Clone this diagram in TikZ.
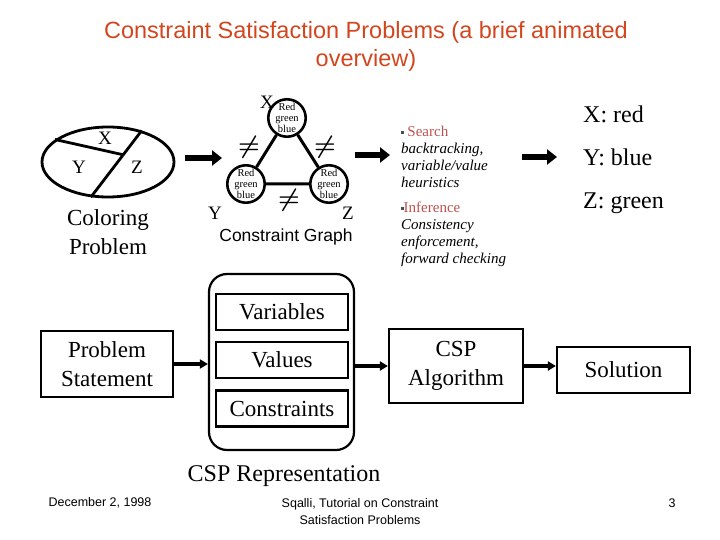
\documentclass[tikz,border=0pt]{standalone}
\usepackage{amsmath}
\usepackage{fontspec}
\setmainfont{Liberation Serif}
\newfontfamily\arialfont{Liberation Sans}
\usetikzlibrary{positioning,arrows.meta,shapes.geometric,calc}
\definecolor{titlered}{HTML}{D2461E}
\definecolor{bulletred}{HTML}{C0504D}

\begin{document}
\begin{tikzpicture}[x=1pt,y=-1pt,every node/.style={font=\fontsize{23}{29}\selectfont}]
    \tikzstyle{box}=[draw,line width=2.2pt,align=center,inner sep=0pt];
    \tikzstyle{var}=[circle,draw,line width=2.6pt,fill=white,minimum size=35pt,inner sep=0pt,
                     align=center,font=\fontsize{10.5}{11}\selectfont];
    \tikzstyle{fat}=[line width=5.5pt,-{Triangle[length=10pt,width=15pt]}];
    \tikzstyle{link}=[line width=4pt,-{Triangle[length=8pt,width=9pt]}];
    \tikzstyle{lbl}=[inner sep=0pt,font=\fontsize{19}{19}\selectfont];
    \tikzstyle{ne}=[inner sep=0pt,font=\fontsize{24}{24}\selectfont];
    \tikzstyle{bigtxt}=[anchor=base west,inner sep=0pt,font=\fontsize{24}{24}\selectfont];
    \tikzstyle{foot}=[align=center,font=\arialfont\fontsize{12.5}{17}\selectfont];

    \useasboundingbox (0,0) rectangle (720,540);

    % title
    \node[font=\arialfont\fontsize{23.5}{28}\selectfont,text=titlered,align=center] (title) at (366,46)
       {Constraint Satisfaction Problems (a brief animated\\overview)};

    % top row: coloring problem
    \node[ellipse,draw,line width=2.8pt,minimum width=132pt,minimum height=70pt,inner sep=0pt] (colmap) at (108,162) {};
    \draw[line width=2.8pt] (colmap.43) -- (colmap.244);
    \draw[line width=2.8pt] (colmap.157) -- ($(colmap.43)!0.364!(colmap.244)$);
    \node[lbl] (cx) at (105,138) {X};
    \node[lbl] (cy) at (79,167) {Y};
    \node[lbl] (cz) at (137,167) {Z};
    \node[align=center] (colname) at (108,232) {Coloring\\Problem};

    \coordinate (a1s) at (185,158);
    \coordinate (a1e) at (222,158);
    \draw[fat] (a1s) -- (a1e);

    % top row: constraint graph
    \node[var] (gx) at (287,118) {Red\\green\\blue};
    \node[var] (gy) at (246,184) {Red\\green\\blue};
    \node[var] (gz) at (329,184) {Red\\green\\blue};
    \draw[line width=3pt] (gx) -- (gy) (gx) -- (gz) (gy) -- (gz);
    \node[lbl] (gxl) at (267,102) {X};
    \node[lbl] (gyl) at (215,213) {Y};
    \node[lbl] (gzl) at (348,213) {Z};
    \node[ne] (nexy) at (249,147) {$\boldsymbol{\neq}$};
    \node[ne] (nexz) at (325,147) {$\boldsymbol{\neq}$};
    \node[ne] (neyz) at (289,200) {$\boldsymbol{\neq}$};
    \node[font=\arialfont\fontsize{17.5}{20}\selectfont] (cgname) at (286,237) {Constraint Graph};

    \coordinate (a2s) at (355,155);
    \coordinate (a2e) at (390,155);
    \draw[fat] (a2s) -- (a2e);

    % top row: algorithms
    \node[anchor=north west,align=left,inner sep=0pt,font=\itshape\fontsize{15}{17}\selectfont] (algtxt) at (401,126)
       {\textcolor{black!70}{\rule[3pt]{2.5pt}{2.5pt}}~\textcolor{bulletred}{\upshape Search}\\
        backtracking,\\variable/value\\heuristics\\[8pt]
        \textcolor{black!70}{\rule[3pt]{2.5pt}{2.5pt}}\textcolor{bulletred}{\upshape Inference}\\
        Consistency\\enforcement,\\forward checking};

    \coordinate (a3s) at (522,157);
    \coordinate (a3e) at (557,157);
    \draw[fat] (a3s) -- (a3e);

    % top row: solution
    \node[bigtxt] (solx) at (583,123) {X: red};
    \node[bigtxt] (soly) at (583,166) {Y: blue};
    \node[bigtxt] (solz) at (583,209) {Z: green};

    % bottom row: pipeline
    \node[box,minimum width=132pt,minimum height=66pt] (stmt) at (107,364) {Problem\\Statement};
    \node[draw,line width=2.2pt,rounded corners=18pt,minimum width=145pt,minimum height=176pt] (rep) at (281.5,362) {};
    \node[box,minimum width=132pt,minimum height=36pt] (vars) at (282,312) {Variables};
    \node[box,minimum width=132pt,minimum height=36pt] (vals) at (282,360) {Values};
    \node[box,minimum width=132pt,minimum height=36pt] (cons) at (282,408.5) {Constraints};
    \node[font=\fontsize{24}{29}\selectfont] (repname) at (284,476) {CSP Representation};
    \node[box,minimum width=134pt,minimum height=74pt] (algo) at (456,366) {CSP\\Algorithm};
    \node[box,minimum width=133pt,minimum height=46pt] (sol) at (623.5,370) {Solution};
    \draw[link] (stmt.east) -- (stmt.east -| rep.west);
    \draw[link] (rep.east |- algo.west) -- (algo.west);
    \draw[link] (algo.east) -- (algo.east -| sol.west);

    % footer
    \node[foot] (date) at (100,503) {December 2, 1998};
    \node[foot] (src) at (360,511.5) {Sqalli, Tutorial on Constraint\\Satisfaction Problems};
    \node[foot] (pg) at (672,503) {3};
\end{tikzpicture}
\end{document}
